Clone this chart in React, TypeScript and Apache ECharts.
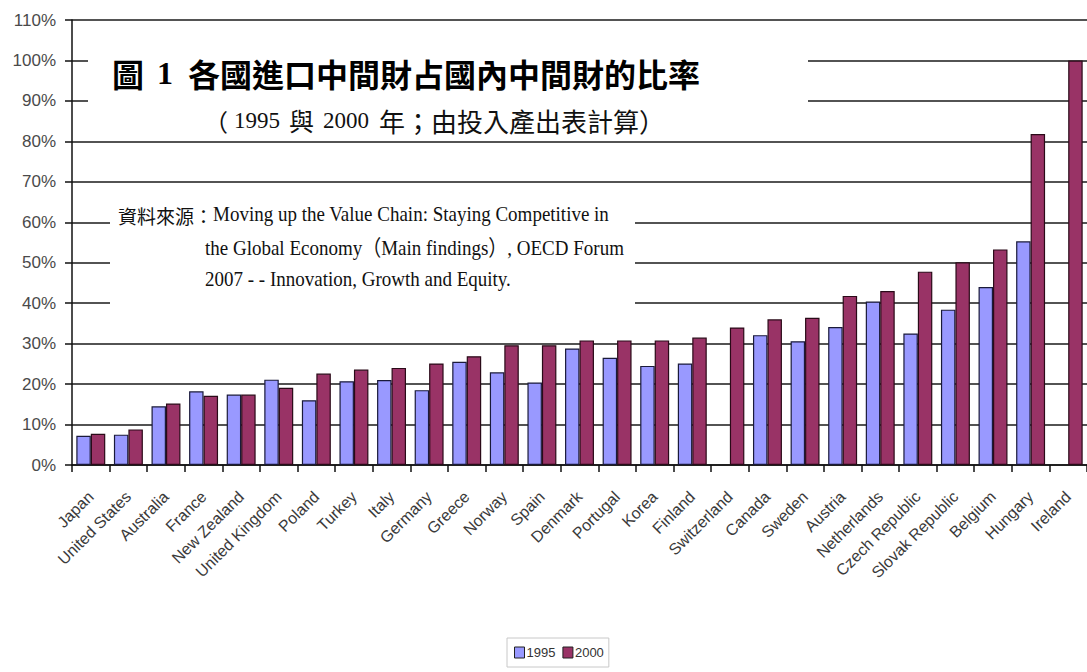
import React, { useEffect, useRef } from "react";
import * as echarts from "echarts";

const categories = [
  "Japan", "United States", "Australia", "France", "New Zealand", "United Kingdom",
  "Poland", "Turkey", "Italy", "Germany", "Greece", "Norway", "Spain", "Denmark",
  "Portugal", "Korea", "Finland", "Switzerland", "Canada", "Sweden", "Austria",
  "Netherlands", "Czech Republic", "Slovak Republic", "Belgium", "Hungary", "Ireland",
];

const share1995 = [
  7.2, 7.5, 14.5, 18.2, 17.4, 21.1, 16.0, 20.7, 21.0, 18.5, 25.5, 22.9, 20.4, 28.8,
  26.5, 24.5, 25.1, null, 32.1, 30.6, 34.1, 40.4, 32.5, 38.4, 44.0, 55.3, null,
];

const share2000 = [
  7.7, 8.8, 15.2, 17.1, 17.4, 19.1, 22.6, 23.6, 24.0, 25.1, 26.9, 29.6, 29.6, 30.8,
  30.8, 30.8, 31.5, 34.0, 36.0, 36.4, 41.8, 43.0, 47.8, 50.1, 53.3, 81.8, 100.0,
];

const seriesNames = ["1995", "2000"];

const titleParts = ["圖", "1", "各國進口中間財占國內中間財的比率"];
const subtitleParts = ["（", "1995", "與", "2000", "年；由投入產出表計算）"];
const sourceLabel = "資料來源：";
const sourceLines = [
  "Moving up the Value Chain: Staying Competitive in",
  "the Global Economy（Main findings）, OECD Forum",
  "2007 - - Innovation, Growth and Equity.",
];

const SANS = '"Liberation Sans", Arial, sans-serif';
const SERIF = '"Liberation Serif", "Times New Roman", "Noto Sans CJK TC", serif';
const CJK = '"Noto Sans CJK TC", sans-serif';

function txt(x: number, y: number, text: string, fontSize: number, fontFamily: string, extra: any = {}) {
  return {
    type: "text",
    x,
    y,
    z: 20,
    ...(extra.el || {}),
    style: {
      text,
      fontSize,
      fontFamily,
      fontWeight: extra.fontWeight || "normal",
      fill: extra.fill || "#111",
      textAlign: "left",
      textVerticalAlign: "middle",
      align: "left",
      verticalAlign: "middle",
    },
  };
}

export default function App() {
  const ref = useRef<HTMLDivElement>(null);

  useEffect(() => {
    if (!ref.current) return;
    const chart = echarts.init(ref.current, null, { renderer: "svg" });
    const stretch = { scaleY: 1.15, originX: 0, originY: 0 };
    const option: any = {
      animation: false,
      backgroundColor: "#ffffff",
      grid: { left: 72, right: 0, top: 20, bottom: 207, containLabel: false },
      legend: {
        data: seriesNames,
        left: 507,
        top: 638,
        orient: "horizontal",
        itemWidth: 10,
        itemHeight: 11,
        itemGap: 7,
        padding: [8, 5, 8, 7],
        borderColor: "#c8c8c8",
        borderWidth: 1,
        icon: "rect",
        itemStyle: { borderColor: "#222", borderWidth: 1 },
        textStyle: { fontFamily: SANS, fontSize: 13, color: "#333", padding: [0, 0, 0, -3] },
      },
      xAxis: {
        type: "category",
        data: categories,
        boundaryGap: true,
        axisLine: { lineStyle: { color: "#111", width: 1.5 } },
        axisTick: { show: true, length: 7, lineStyle: { color: "#111", width: 1.5 } },
        axisLabel: {
          interval: 0,
          rotate: 45,
          margin: 29,
          fontFamily: SANS,
          fontSize: 16,
          color: "#3a3a3a",
        },
      },
      yAxis: {
        type: "value",
        min: 0,
        max: 110,
        interval: 10,
        axisLine: { show: true, lineStyle: { color: "#111", width: 1.5 } },
        axisTick: { show: true, length: 7, lineStyle: { color: "#111", width: 1.5 } },
        axisLabel: {
          formatter: "{value}%",
          margin: 16,
          fontFamily: SANS,
          fontSize: 17,
          color: "#4a4a4a",
        },
        splitLine: { show: true, lineStyle: { color: "#1a1a1a", width: 1.5 } },
      },
      series: [
        {
          name: seriesNames[0],
          type: "bar",
          data: share1995,
          barGap: "0%",
          barCategoryGap: "23%",
          itemStyle: { color: "#9999ff", borderColor: "#1a1a3a", borderWidth: 1.2 },
        },
        {
          name: seriesNames[1],
          type: "bar",
          data: share2000,
          barGap: "0%",
          barCategoryGap: "23%",
          itemStyle: { color: "#993366", borderColor: "#2a0a18", borderWidth: 1.2 },
        },
      ],
      graphic: [
        { type: "rect", z: 10, shape: { x: 88, y: 32, width: 720, height: 100 }, style: { fill: "#ffffff" } },
        { type: "rect", z: 10, shape: { x: 110, y: 192, width: 525, height: 120 }, style: { fill: "#ffffff" } },
        txt(112, 73, titleParts[0], 32, CJK, { fontWeight: "bold", fill: "#000" }),
        txt(157, 73, titleParts[1], 32, SERIF, { fontWeight: "bold", fill: "#000" }),
        txt(188, 73, titleParts[2], 32, CJK, { fontWeight: "bold", fill: "#000" }),
        txt(204, 120, subtitleParts[0], 24, CJK, { fill: "#111" }),
        txt(234, 120, subtitleParts[1], 23, SERIF, { fill: "#111" }),
        txt(289, 120, subtitleParts[2], 25, CJK, { fill: "#111" }),
        txt(323, 120, subtitleParts[3], 23, SERIF, { fill: "#111" }),
        txt(379, 120, subtitleParts[4], 26, CJK, { fill: "#111" }),
        txt(118, 215, sourceLabel, 19, CJK, { fill: "#111" }),
        txt(213, 214, sourceLines[0], 19, SERIF, { fill: "#111", el: stretch }),
        txt(205, 248, sourceLines[1], 19, SERIF, { fill: "#111", el: stretch }),
        txt(205, 279, sourceLines[2], 19, SERIF, { fill: "#111", el: stretch }),
      ],
    };
    chart.setOption(option);
    return () => chart.dispose();
  }, []);

  return (
    <div
      ref={ref}
      style={{ position: "absolute", left: 0, top: 0, width: 1087, height: 672, background: "#fff" }}
    />
  );
}
